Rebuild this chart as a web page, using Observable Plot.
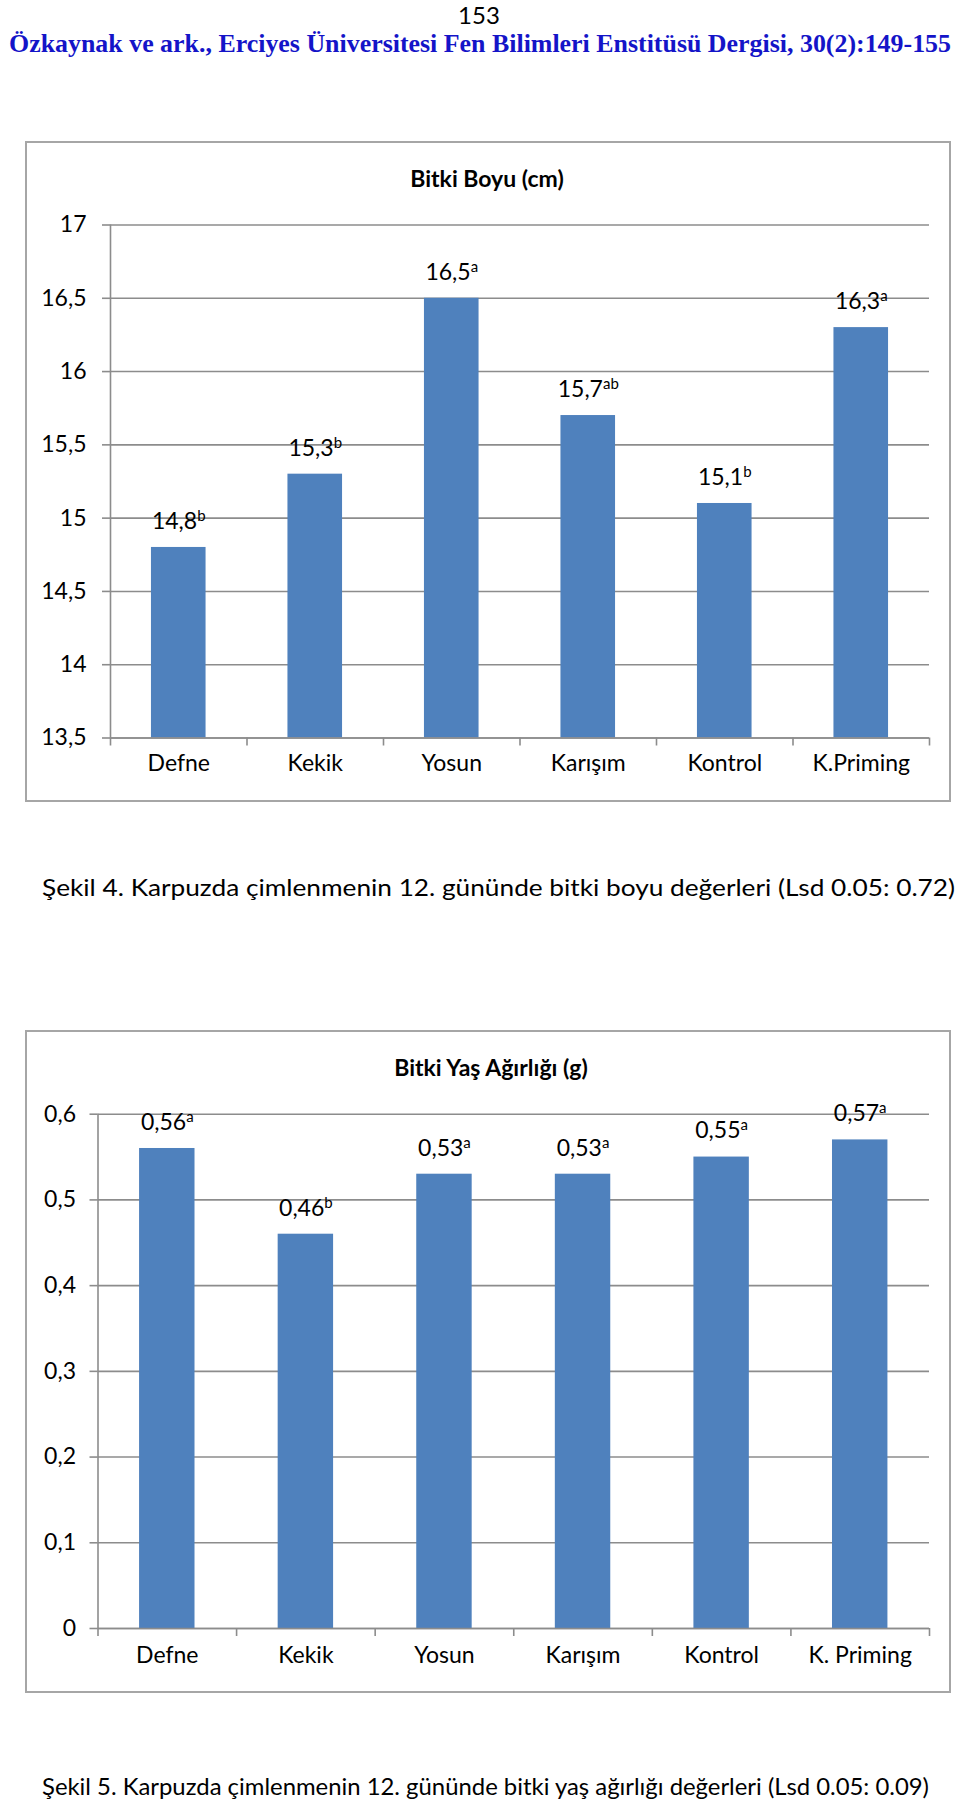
<!DOCTYPE html>
<html><head><meta charset="utf-8">
<script src="https://cdn.jsdelivr.net/npm/d3@7"></script>
<script src="https://cdn.jsdelivr.net/npm/@observablehq/plot@0.6"></script>
<style>
html,body{margin:0;padding:0;background:#fff;}
body{width:960px;height:1799px;position:relative;overflow:hidden;font-family:Lato,"Open Sans",sans-serif;color:#000;}
.abs{position:absolute;white-space:nowrap;line-height:1.15;}
.frame{position:absolute;border:2px solid #a6a6a6;box-sizing:border-box;pointer-events:none;}
</style></head><body>
<script>
// ---------- data ----------
const pageNumber = "153";
const headerText = "Özkaynak ve ark.,  Erciyes Üniversitesi Fen Bilimleri Enstitüsü Dergisi, 30(2):149-155";

const title1 = "Bitki Boyu (cm)";
const categories1 = ["Defne", "Kekik", "Yosun", "Karışım", "Kontrol", "K.Priming"];
const values1 = [14.8, 15.3, 16.5, 15.7, 15.1, 16.3];
const letters1 = ["b", "b", "a", "ab", "b", "a"];
const yTicks1 = [13.5, 14, 14.5, 15, 15.5, 16, 16.5, 17];
const caption1 = "Şekil 4. Karpuzda çimlenmenin 12. gününde bitki boyu değerleri (Lsd 0.05: 0.72)";

const title2 = "Bitki Yaş Ağırlığı (g)";
const categories2 = ["Defne", "Kekik", "Yosun", "Karışım", "Kontrol", "K. Priming"];
const values2 = [0.56, 0.46, 0.53, 0.53, 0.55, 0.57];
const letters2 = ["a", "b", "a", "a", "a", "a"];
const yTicks2 = [0, 0.1, 0.2, 0.3, 0.4, 0.5, 0.6];
const caption2 = "Şekil 5. Karpuzda çimlenmenin 12. gününde bitki yaş ağırlığı değerleri (Lsd 0.05: 0.09)";

// ---------- helpers ----------
const comma = d => String(d).replace(".", ",");
const NS = "http://www.w3.org/2000/svg";
const GRID = "#8c8c8c";
const BAR = "#4f81bd";
const FS = 23;

function placeText(txt, {left, cx, cy, font, color = "#000", fitWidth}) {
  const el = document.createElement("div");
  el.className = "abs";
  el.textContent = txt;
  el.style.font = font;
  el.style.color = color;
  document.body.appendChild(el);
  const r = el.getBoundingClientRect();
  let w = r.width;
  if (fitWidth) {
    el.style.transformOrigin = "0 50%";
    el.style.transform = `scaleX(${fitWidth / w})`;
    w = fitWidth;
  }
  el.style.left = (left != null ? left : cx - w / 2) + "px";
  el.style.top = Math.max(0, cy - r.height / 2) + "px";
  return el;
}

function makeChart({cats, vals, lets, ticks, yMin, yMax, left, top, width, height, ml, mr, mt, mb, tickPad, catDy}) {
  const data = cats.map((c, i) => ({c, i, v: vals[i], lab: comma(vals[i]) + "|" + lets[i]}));
  const bounds = d3.range(cats.length + 1);
  const bw = 0.4;
  const svg = Plot.plot({
    width, height,
    marginLeft: ml, marginRight: mr, marginTop: mt, marginBottom: mb,
    style: {fontFamily: "Lato, 'Open Sans', sans-serif", fontSize: FS + "px", color: "#000", background: "transparent", overflow: "visible"},
    x: {domain: [0, cats.length], axis: null},
    y: {domain: [yMin, yMax], axis: null},
    marks: [
      Plot.gridY(ticks, {stroke: GRID, strokeOpacity: 1, strokeWidth: 1.6}),
      Plot.rect(data, {x1: d => d.i + (1 - bw) / 2, x2: d => d.i + (1 + bw) / 2, y1: yMin, y2: "v", fill: BAR}),
      Plot.ruleX([0], {stroke: GRID, strokeWidth: 1.6}),
      Plot.ruleY([yMin], {stroke: GRID, strokeWidth: 1.6}),
      Plot.axisY({ticks, label: null, tickSize: 8, tickPadding: tickPad, tickFormat: comma, stroke: GRID, strokeWidth: 1.6, fill: "#000", fontSize: FS}),
      Plot.axisX({ticks: bounds, label: null, tickSize: 8, tickFormat: () => "", stroke: GRID, strokeWidth: 1.6}),
      Plot.text(cats, {x: (d, i) => i + 0.5, frameAnchor: "bottom", dy: catDy, fontSize: FS, fill: "#000"}),
      Plot.text(data, {x: d => d.i + 0.5, y: "v", text: "lab", dy: -26, fontSize: FS, fill: "#000"})
    ]
  });
  // superscript letters
  svg.querySelectorAll("text").forEach(t => {
    const s = t.textContent;
    if (s.includes("|")) {
      const [num, sup] = s.split("|");
      t.textContent = "";
      const a = document.createElementNS(NS, "tspan");
      a.textContent = num;
      const b = document.createElementNS(NS, "tspan");
      b.textContent = sup;
      b.setAttribute("font-size", "15");
      b.setAttribute("dy", "-8");
      t.appendChild(a);
      t.appendChild(b);
    }
  });
  svg.style.position = "absolute";
  svg.style.left = left + "px";
  svg.style.top = top + "px";
  svg.style.maxWidth = "none";
  document.body.appendChild(svg);
  const fr = document.createElement("div");
  fr.className = "frame";
  fr.style.left = left + "px";
  fr.style.top = top + "px";
  fr.style.width = width + "px";
  fr.style.height = height + "px";
  document.body.appendChild(fr);
}

// ---------- page ----------
placeText(pageNumber, {cx: 479, cy: 14, font: "24px Lato, sans-serif"});
placeText(headerText, {left: 9, cy: 44, font: "bold 25px 'Liberation Serif', 'Times New Roman', serif", color: "#1414c8", fitWidth: 942});

makeChart({cats: categories1, vals: values1, lets: letters1, ticks: yTicks1, yMin: 13.5, yMax: 17,
  left: 25, top: 141, width: 926, height: 661, ml: 85, mr: 22, mt: 83.5, mb: 64.5, tickPad: 16, catDy: 32.5});
placeText(title1, {cx: 487, cy: 178, font: "bold 23px Lato, sans-serif"});
placeText(caption1, {left: 42, cy: 887, font: "23px Lato, sans-serif", fitWidth: 913});

makeChart({cats: categories2, vals: values2, lets: letters2, ticks: yTicks2, yMin: 0, yMax: 0.6,
  left: 25, top: 1030, width: 926, height: 663, ml: 72.5, mr: 22, mt: 83.7, mb: 65, tickPad: 14, catDy: 34});
placeText(title2, {cx: 491, cy: 1067, font: "bold 23px Lato, sans-serif"});
placeText(caption2, {left: 42, cy: 1786, font: "23px Lato, sans-serif", fitWidth: 887});
</script>
</body></html>
